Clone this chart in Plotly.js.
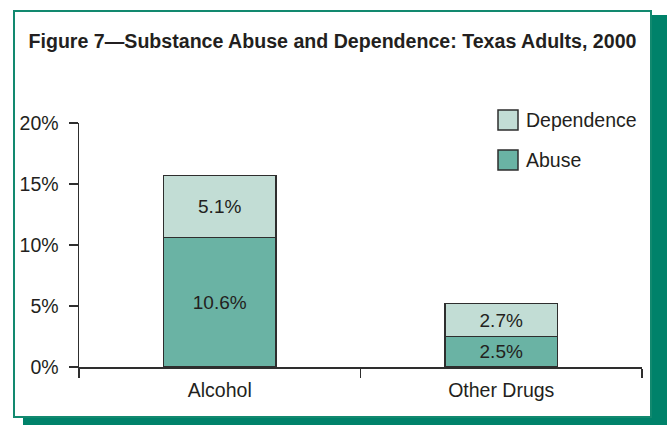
<!DOCTYPE html>
<html>
<head>
<meta charset="utf-8">
<script src="https://cdn.plot.ly/plotly-3.0.1.min.js"></script>
<style>
  html, body { margin: 0; padding: 0; width: 667px; height: 425px; overflow: hidden; background: #ffffff; }
  #shadow { position: absolute; left: 23px; top: 15px; width: 644px; height: 410px; background: #00826a; }
  #frame { position: absolute; left: 13px; top: 10px; width: 639px; height: 408px; box-sizing: border-box; background: #ffffff; border: 2px solid #12896f; }
  #chart { position: absolute; left: 0; top: 0; width: 667px; height: 425px; }
</style>
</head>
<body>
<div id="shadow"></div>
<div id="frame"></div>
<div id="chart"></div>
<script>
// ---- data ----
const categories = ['Alcohol', 'Other Drugs'];
const abuse = [10.6, 2.5];
const dependence = [5.1, 2.7];
const seriesNames = ['Abuse', 'Dependence'];
const yTickValues = [0, 5, 10, 15, 20];
const yTickLabels = ['0%', '5%', '10%', '15%', '20%'];
const titleText = 'Figure 7\u2014Substance Abuse and Dependence: Texas Adults, 2000';

// ---- style ----
const FONT = '"Liberation Sans", Arial, sans-serif';
const TXT = '#231f20';
const abuseColor = '#6ab3a4';
const depColor = '#c2ddd5';
const edge = '#2e2e2e';

const fmt = v => v.toFixed(1) + '%';

const traces = [
  {
    type: 'bar', name: seriesNames[0], x: categories, y: abuse,
    text: abuse.map(fmt), textposition: 'inside', insidetextanchor: 'middle',
    textfont: { family: FONT, size: 19, color: TXT }, constraintext: 'none',
    marker: { color: abuseColor, line: { color: edge, width: 1.5 } },
    hoverinfo: 'none'
  },
  {
    type: 'bar', name: seriesNames[1], x: categories, y: dependence,
    text: dependence.map(fmt), textposition: 'inside', insidetextanchor: 'middle',
    textfont: { family: FONT, size: 19, color: TXT }, constraintext: 'none',
    marker: { color: depColor, line: { color: edge, width: 1.5 } },
    hoverinfo: 'none'
  }
];

// custom legend (large swatches) in paper coords
const L = { l: 79, r: 25, t: 123, b: 58 };
const W = 667, H = 425;
const pw = W - L.l - L.r, ph = H - L.t - L.b;
const px = x => (x - L.l) / pw;
const py = y => (H - L.b - y) / ph;

const legendItems = [
  { name: seriesNames[1], color: depColor, top: 110 },
  { name: seriesNames[0], color: abuseColor, top: 150 }
];
const shapes = legendItems.map(it => ({
  type: 'rect', xref: 'paper', yref: 'paper',
  x0: px(498), x1: px(518), y0: py(it.top + 20), y1: py(it.top),
  fillcolor: it.color, line: { color: edge, width: 1.5 }
}));
const annotations = legendItems.map(it => ({
  xref: 'paper', yref: 'paper', x: px(524), y: py(it.top + 10),
  xanchor: 'left', yanchor: 'middle', showarrow: false,
  text: it.name, font: { family: FONT, size: 19.5, color: TXT }
}));

const layout = {
  width: W, height: H,
  margin: L,
  paper_bgcolor: 'rgba(0,0,0,0)',
  plot_bgcolor: 'rgba(0,0,0,0)',
  barmode: 'stack',
  bargap: 0.6,
  showlegend: false,
  title: {
    text: '<b>' + titleText + '</b>',
    x: 28.5 / W, xanchor: 'left', xref: 'container',
    y: 1 - 41 / H, yanchor: 'middle', yref: 'container',
    font: { family: FONT, size: 19.6, color: TXT }
  },
  font: { family: FONT, color: TXT },
  xaxis: {
    showline: true, linecolor: edge, linewidth: 1.5,
    ticks: 'outside', ticklen: 9, tickcolor: edge, tickwidth: 1.5,
    tickson: 'boundaries', ticklabelstandoff: 5,
    tickfont: { family: FONT, size: 19.5, color: TXT },
    showgrid: false, zeroline: false, fixedrange: true
  },
  yaxis: {
    range: [0, 20], tickmode: 'array', tickvals: yTickValues, ticktext: yTickLabels,
    showline: true, linecolor: edge, linewidth: 1.5,
    ticks: 'outside', ticklen: 9, tickcolor: edge, tickwidth: 1.5,
    ticklabelstandoff: 6,
    tickfont: { family: FONT, size: 19.5, color: TXT },
    showgrid: false, zeroline: false, fixedrange: true
  },
  shapes: shapes,
  annotations: annotations
};

Plotly.newPlot('chart', traces, layout, { displayModeBar: false, staticPlot: true });
</script>
</body>
</html>
